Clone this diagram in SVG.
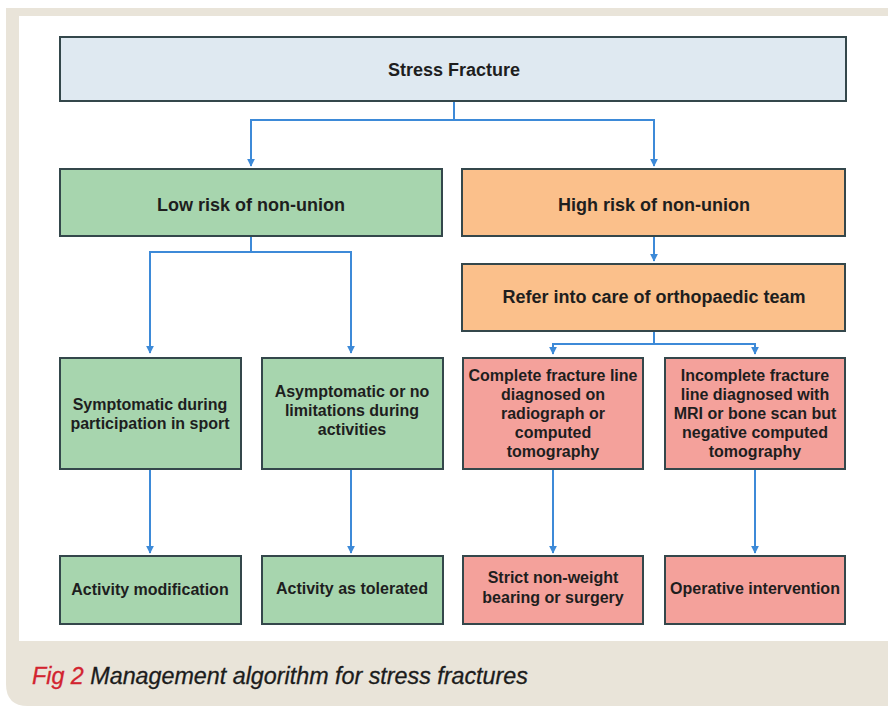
<svg xmlns="http://www.w3.org/2000/svg" width="888" height="706" viewBox="0 0 888 706">
<defs>
<marker id="ah" viewBox="0 0 10 10" refX="9" refY="5" markerWidth="4" markerHeight="4" orient="auto" markerUnits="strokeWidth">
<path d="M0,0 L10,5 L0,10 Z" fill="#3d8ad8"/>
</marker>
<style>
.box{stroke:#34474b;stroke-width:2}
.blue{fill:#dfe9f1}
.green{fill:#a7d5ae}
.orange{fill:#fbc08b}
.red{fill:#f4a19b}
.t{font-family:"Liberation Sans",Arial,sans-serif;font-weight:bold;fill:#1e1e1e;text-anchor:middle}
.big{font-size:18px}
.sm{font-size:16px}
.con{fill:none;stroke:#3d8ad8;stroke-width:2}
</style>
</defs>
<rect width="888" height="706" fill="#ffffff"/>
<path d="M6,8 H888 V706 H28 Q6,706 6,684 Z" fill="#e9e4d9"/>
<rect x="19" y="16" width="869" height="625" fill="#ffffff"/>

<g id="connectors">
<path class="con" d="M454,101 V120 H251 V166" marker-end="url(#ah)"/>
<path class="con" d="M454,120 H654 V166" marker-end="url(#ah)"/>
<path class="con" d="M251,236 V252 H150 V353" marker-end="url(#ah)"/>
<path class="con" d="M251,252 H351 V353" marker-end="url(#ah)"/>
<path class="con" d="M654,236 V261" marker-end="url(#ah)"/>
<path class="con" d="M654,331 V344 H553 V354" marker-end="url(#ah)"/>
<path class="con" d="M654,344 H755 V354" marker-end="url(#ah)"/>
<path class="con" d="M150,469 V553" marker-end="url(#ah)"/>
<path class="con" d="M351,469 V553" marker-end="url(#ah)"/>
<path class="con" d="M553,469 V553" marker-end="url(#ah)"/>
<path class="con" d="M755,469 V553" marker-end="url(#ah)"/>
</g>

<g id="stress-fracture">
<rect class="box blue" x="60" y="37" width="786" height="64"/>
<text class="t big" x="454" y="76">Stress Fracture</text>
</g>
<g id="low-risk">
<rect class="box green" x="60" y="169" width="382" height="67"/>
<text class="t big" x="251" y="211">Low risk of non-union</text>
</g>
<g id="high-risk">
<rect class="box orange" x="462" y="169" width="383" height="67"/>
<text class="t big" x="654" y="211">High risk of non-union</text>
</g>
<g id="refer">
<rect class="box orange" x="462" y="264" width="383" height="67"/>
<text class="t big" x="654" y="303">Refer into care of orthopaedic team</text>
</g>
<g id="symptomatic">
<rect class="box green" x="60" y="358" width="181" height="111"/>
<text class="t sm" x="150" y="410">Symptomatic during</text>
<text class="t sm" x="150" y="429">participation in sport</text>
</g>
<g id="asymptomatic">
<rect class="box green" x="262" y="358" width="181" height="111"/>
<text class="t sm" x="352" y="397">Asymptomatic or no</text>
<text class="t sm" x="352" y="416">limitations during</text>
<text class="t sm" x="352" y="435">activities</text>
</g>
<g id="complete">
<rect class="box red" x="463" y="358" width="180" height="111"/>
<text class="t sm" x="553" y="381">Complete fracture line</text>
<text class="t sm" x="553" y="400">diagnosed on</text>
<text class="t sm" x="553" y="419">radiograph or</text>
<text class="t sm" x="553" y="438">computed</text>
<text class="t sm" x="553" y="457">tomography</text>
</g>
<g id="incomplete">
<rect class="box red" x="665" y="358" width="180" height="111"/>
<text class="t sm" x="755" y="381">Incomplete fracture</text>
<text class="t sm" x="755" y="400">line diagnosed with</text>
<text class="t sm" x="755" y="419">MRI or bone scan but</text>
<text class="t sm" x="755" y="438">negative computed</text>
<text class="t sm" x="755" y="457">tomography</text>
</g>
<g id="activity-modification">
<rect class="box green" x="60" y="556" width="181" height="68"/>
<text class="t sm" x="150" y="595">Activity modification</text>
</g>
<g id="activity-tolerated">
<rect class="box green" x="262" y="556" width="181" height="68"/>
<text class="t sm" x="352" y="594">Activity as tolerated</text>
</g>
<g id="strict">
<rect class="box red" x="463" y="556" width="180" height="68"/>
<text class="t sm" x="553" y="583">Strict non-weight</text>
<text class="t sm" x="553" y="603">bearing or surgery</text>
</g>
<g id="operative">
<rect class="box red" x="665" y="556" width="180" height="68"/>
<text class="t sm" x="755" y="594">Operative intervention</text>
</g>

<text x="32" y="684" font-family="'Liberation Sans',Arial,sans-serif" font-style="italic" font-size="23.3px" fill="#1c1c1c" stroke="#1c1c1c" stroke-width="0.3"><tspan fill="#d2232f" stroke="#d2232f">Fig 2</tspan> Management algorithm for stress fractures</text>
</svg>
